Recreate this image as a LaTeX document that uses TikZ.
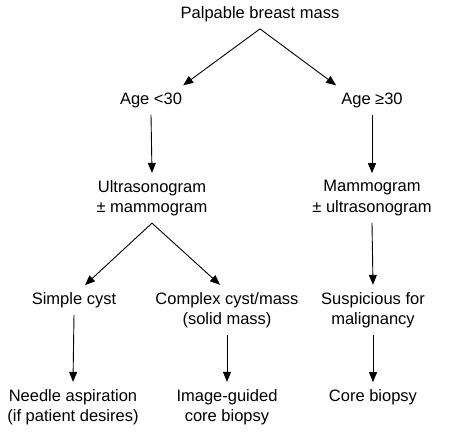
\documentclass[tikz,border=0pt]{standalone}
\usepackage{fontspec}
\setmainfont{Liberation Sans}
\usetikzlibrary{arrows.meta,positioning,calc}
\tikzset{
  stepnode/.style={
    align=center,
    inner xsep=3pt,
    inner ysep=7pt,
    font=\fontsize{16.5}{20.5}\selectfont
  },
  flowar/.style={-{Triangle[length=10pt,width=8pt]},line width=0.9pt,draw=black}
}

\begin{document}
\begin{tikzpicture}[x=1pt,y=-1pt]
  \useasboundingbox (0,0) rectangle (451,435);

  \node[stepnode] (mass)    at (260, 14)  {Palpable breast mass};
  \node[stepnode] (young)   at (151, 100) {Age <30};
  \node[stepnode] (old)     at (372, 100) {Age ≥30};

  \node[stepnode] (usg)     at (152, 198) {Ultrasonogram\\± mammogram};
  \node[stepnode] (mammo)   at (372, 198) {Mammogram\\± ultrasonogram};

  \node[stepnode] (simple)  at (74, 300)  {Simple cyst};
  \node[stepnode] (complex) at (227, 310) {Complex cyst/mass\\(solid mass)};
  \node[stepnode] (susp)    at (373, 310) {Suspicious for\\malignancy};

  \node[stepnode] (needle)  at (73, 407)  {Needle aspiration\\(if patient desires)};
  \node[stepnode] (guided)  at (227, 407) {Image-guided\\core biopsy};
  \node[stepnode] (core)    at (373, 397) {Core biopsy};

  \draw[flowar] (mass.south) -- ([xshift=-2pt]young.north east);
  \draw[flowar] (mass.south) -- ([xshift=-2pt]old.north west);
  \draw[flowar] (young.south) -- (usg.north);
  \draw[flowar] (old.south) -- (mammo.north);
  \draw[flowar] (usg.south) -- ([xshift=11pt]simple.north);
  \draw[flowar] (usg.south) -- ([xshift=-7pt]complex.north);
  \draw[flowar] (simple.south) -- (needle.north);
  \draw[flowar] (complex.south) -- (guided.north);
  \draw[flowar] (mammo.south) -- (susp.north);
  \draw[flowar] (susp.south) -- (core.north);
\end{tikzpicture}
\end{document}
